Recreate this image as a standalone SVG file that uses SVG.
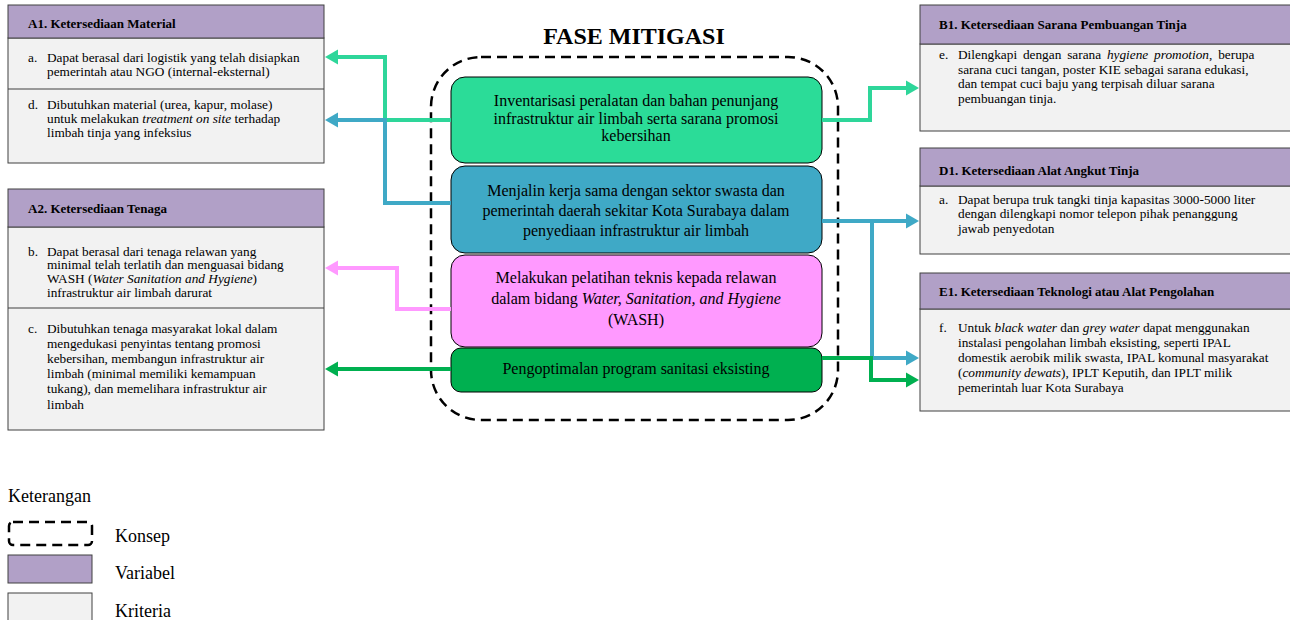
<svg xmlns="http://www.w3.org/2000/svg" width="1290" height="620" viewBox="0 0 1290 620">
<style>
text{font-family:"Liberation Serif","Times New Roman",serif;fill:#000}
.hd{fill:#b1a0c7;stroke:#404040;stroke-width:1}
.cr{fill:#f2f2f2;stroke:#404040;stroke-width:1}
.ht{font-size:13px;font-weight:bold}
.bt{font-size:13.3px}
.ct{font-size:16px}
.lg{font-size:18px}
.cb{stroke:#000;stroke-width:1}
.dash{fill:none;stroke:#000;stroke-width:2.5;stroke-dasharray:10 6}
.cn{fill:none;stroke-width:4;stroke-linejoin:miter}
</style>
<defs>
<marker id="aG" markerUnits="userSpaceOnUse" markerWidth="14" markerHeight="16" refX="0" refY="7.5" orient="auto" overflow="visible"><path d="M0,0 L13,7.5 L0,15 z" fill="#2ed69a"/></marker>
<marker id="aB" markerUnits="userSpaceOnUse" markerWidth="14" markerHeight="16" refX="0" refY="7.5" orient="auto" overflow="visible"><path d="M0,0 L13,7.5 L0,15 z" fill="#3fa9c6"/></marker>
<marker id="aP" markerUnits="userSpaceOnUse" markerWidth="14" markerHeight="16" refX="0" refY="7.5" orient="auto" overflow="visible"><path d="M0,0 L13,7.5 L0,15 z" fill="#ff99ff"/></marker>
<marker id="aD" markerUnits="userSpaceOnUse" markerWidth="14" markerHeight="16" refX="0" refY="7.5" orient="auto" overflow="visible"><path d="M0,0 L13,7.5 L0,15 z" fill="#00b050"/></marker>
</defs>
<rect width="1290" height="620" fill="#fff"/>

<text x="634" y="44" text-anchor="middle" font-size="24" font-weight="bold">FASE MITIGASI</text>
<rect id="konsep" class="dash" x="431" y="57" width="407" height="363" rx="50"/>

<g id="A1">
<rect class="cr" x="8" y="38" width="316" height="125"/>
<line x1="8" y1="89" x2="324" y2="89" stroke="#404040"/>
<rect class="hd" x="8" y="5" width="316" height="33"/>
<text class="ht" x="28" y="28">A1. Ketersediaan Material</text>
<text class="bt" x="28" y="62">a.</text>
<text class="bt" x="47" y="62">Dapat berasal dari logistik yang telah disiapkan</text>
<text class="bt" x="47" y="76">pemerintah atau NGO (internal-eksternal)</text>
<text class="bt" x="28" y="109">d.</text>
<text class="bt" x="47" y="109">Dibutuhkan material (urea, kapur, molase)</text>
<text class="bt" x="47" y="123">untuk melakukan <tspan font-style="italic">treatment on site</tspan> terhadap</text>
<text class="bt" x="47" y="137">limbah tinja yang infeksius</text>
</g>

<g id="A2">
<rect class="cr" x="8" y="227" width="316" height="203"/>
<line x1="8" y1="308" x2="324" y2="308" stroke="#404040"/>
<rect class="hd" x="8" y="189" width="316" height="38"/>
<text class="ht" x="28" y="213">A2. Ketersediaan Tenaga</text>
<text class="bt" x="28" y="256">b.</text>
<text class="bt" x="47" y="256">Dapat berasal dari tenaga relawan  yang</text>
<text class="bt" x="47" y="269">minimal telah terlatih dan menguasai bidang</text>
<text class="bt" x="47" y="283">WASH (<tspan font-style="italic">Water Sanitation and Hygiene</tspan>)</text>
<text class="bt" x="47" y="297">infrastruktur air limbah darurat</text>
<text class="bt" x="28" y="333">c.</text>
<text class="bt" x="47" y="333">Dibutuhkan tenaga masyarakat lokal dalam</text>
<text class="bt" x="47" y="348">mengedukasi penyintas tentang promosi</text>
<text class="bt" x="47" y="363">kebersihan, membangun infrastruktur  air</text>
<text class="bt" x="47" y="378">limbah (minimal memiliki kemampuan</text>
<text class="bt" x="47" y="393">tukang), dan memelihara infrastruktur air</text>
<text class="bt" x="47" y="409">limbah</text>
</g>

<g id="B1">
<rect class="cr" x="920" y="44" width="372" height="87"/>
<rect class="hd" x="920" y="5" width="372" height="39"/>
<text class="ht" x="939" y="29">B1. Ketersediaan Sarana Pembuangan Tinja</text>
<text class="bt" x="939" y="59">e.</text>
<text class="bt" x="958" y="59" word-spacing="2.5">Dilengkapi dengan sarana <tspan font-style="italic">hygiene promotion</tspan>, berupa</text>
<text class="bt" x="958" y="74">sarana cuci tangan, poster KIE sebagai sarana edukasi,</text>
<text class="bt" x="958" y="88">dan tempat cuci baju yang terpisah diluar sarana</text>
<text class="bt" x="958" y="103">pembuangan tinja.</text>
</g>

<g id="D1">
<rect class="cr" x="920" y="186" width="372" height="68"/>
<rect class="hd" x="920" y="148" width="372" height="38"/>
<text class="ht" x="939" y="175">D1. Ketersediaan Alat Angkut Tinja</text>
<text class="bt" x="939" y="204">a.</text>
<text class="bt" x="958" y="204">Dapat berupa truk tangki tinja kapasitas 3000-5000 liter</text>
<text class="bt" x="958" y="218">dengan dilengkapi nomor telepon pihak penanggung</text>
<text class="bt" x="958" y="233">jawab penyedotan</text>
</g>

<g id="E1">
<rect class="cr" x="920" y="309" width="372" height="102"/>
<rect class="hd" x="920" y="273" width="372" height="36"/>
<text class="ht" x="939" y="296">E1. Ketersediaan Teknologi atau Alat Pengolahan</text>
<text class="bt" x="939" y="332">f.</text>
<text class="bt" x="958" y="332">Untuk <tspan font-style="italic">black water</tspan> dan <tspan font-style="italic">grey water</tspan> dapat menggunakan</text>
<text class="bt" x="958" y="347">instalasi pengolahan  limbah eksisting, seperti IPAL</text>
<text class="bt" x="958" y="362">domestik aerobik milik swasta, IPAL komunal masyarakat</text>
<text class="bt" x="958" y="377">(<tspan font-style="italic">community dewats</tspan>), IPLT Keputih, dan IPLT milik</text>
<text class="bt" x="958" y="392">pemerintah luar Kota Surabaya</text>
</g>

<g id="C1">
<rect class="cb" x="451" y="77" width="371" height="86" rx="14" fill="#2bdc98"/>
<text class="ct" x="636" y="106" text-anchor="middle">Inventarisasi peralatan dan bahan penunjang</text>
<text class="ct" x="636" y="123.5" text-anchor="middle">infrastruktur air limbah serta sarana promosi</text>
<text class="ct" x="636" y="141" text-anchor="middle">kebersihan</text>
</g>
<g id="C2">
<rect class="cb" x="451" y="166" width="371" height="87" rx="14" fill="#3fa9c6"/>
<text class="ct" x="636" y="196" text-anchor="middle">Menjalin kerja sama dengan sektor swasta dan</text>
<text class="ct" x="636" y="216" text-anchor="middle">pemerintah daerah sekitar Kota Surabaya dalam</text>
<text class="ct" x="636" y="236" text-anchor="middle">penyediaan infrastruktur air limbah</text>
</g>
<g id="C3">
<rect class="cb" x="451" y="255" width="371" height="92" rx="14" fill="#ff99ff"/>
<text class="ct" x="636" y="283" text-anchor="middle">Melakukan pelatihan teknis kepada relawan</text>
<text class="ct" x="636" y="304" text-anchor="middle">dalam bidang <tspan font-style="italic">Water, Sanitation, and Hygiene</tspan></text>
<text class="ct" x="636" y="325" text-anchor="middle">(WASH)</text>
</g>
<g id="C4">
<rect class="cb" x="451" y="348" width="371" height="44" rx="10" fill="#00b050"/>
<text class="ct" x="636" y="374" text-anchor="middle">Pengoptimalan program sanitasi eksisting</text>
</g>

<g id="connectors">
<path class="cn" stroke="#2ed69a" d="M451,120 H385 V57 H338" marker-end="url(#aG)"/>
<path class="cn" stroke="#3fa9c6" d="M451,203 H385 V120 H338" marker-end="url(#aB)"/>
<path class="cn" stroke="#ff99ff" d="M451,309 H397 V268 H338" marker-end="url(#aP)"/>
<path class="cn" stroke="#00b050" d="M451,369 H338" marker-end="url(#aD)"/>
<path class="cn" stroke="#2ed69a" d="M822,120 H870 V88 H906" marker-end="url(#aG)"/>
<path class="cn" stroke="#3fa9c6" d="M822,221 H906" marker-end="url(#aB)"/>
<path class="cn" stroke="#3fa9c6" d="M872,221 V358 H906" marker-end="url(#aB)"/>
<path class="cn" stroke="#00b050" d="M822,358 H871 V380 H906" marker-end="url(#aD)"/>
</g>

<g id="legend">
<text class="lg" x="8" y="502">Keterangan</text>
<rect class="dash" x="9" y="522" width="83" height="23" rx="4"/>
<text class="lg" x="115" y="542">Konsep</text>
<rect class="hd" x="8" y="555" width="84" height="28"/>
<text class="lg" x="115" y="579">Variabel</text>
<rect class="cr" x="8" y="593" width="84" height="30"/>
<text class="lg" x="115" y="617">Kriteria</text>
</g>
</svg>
